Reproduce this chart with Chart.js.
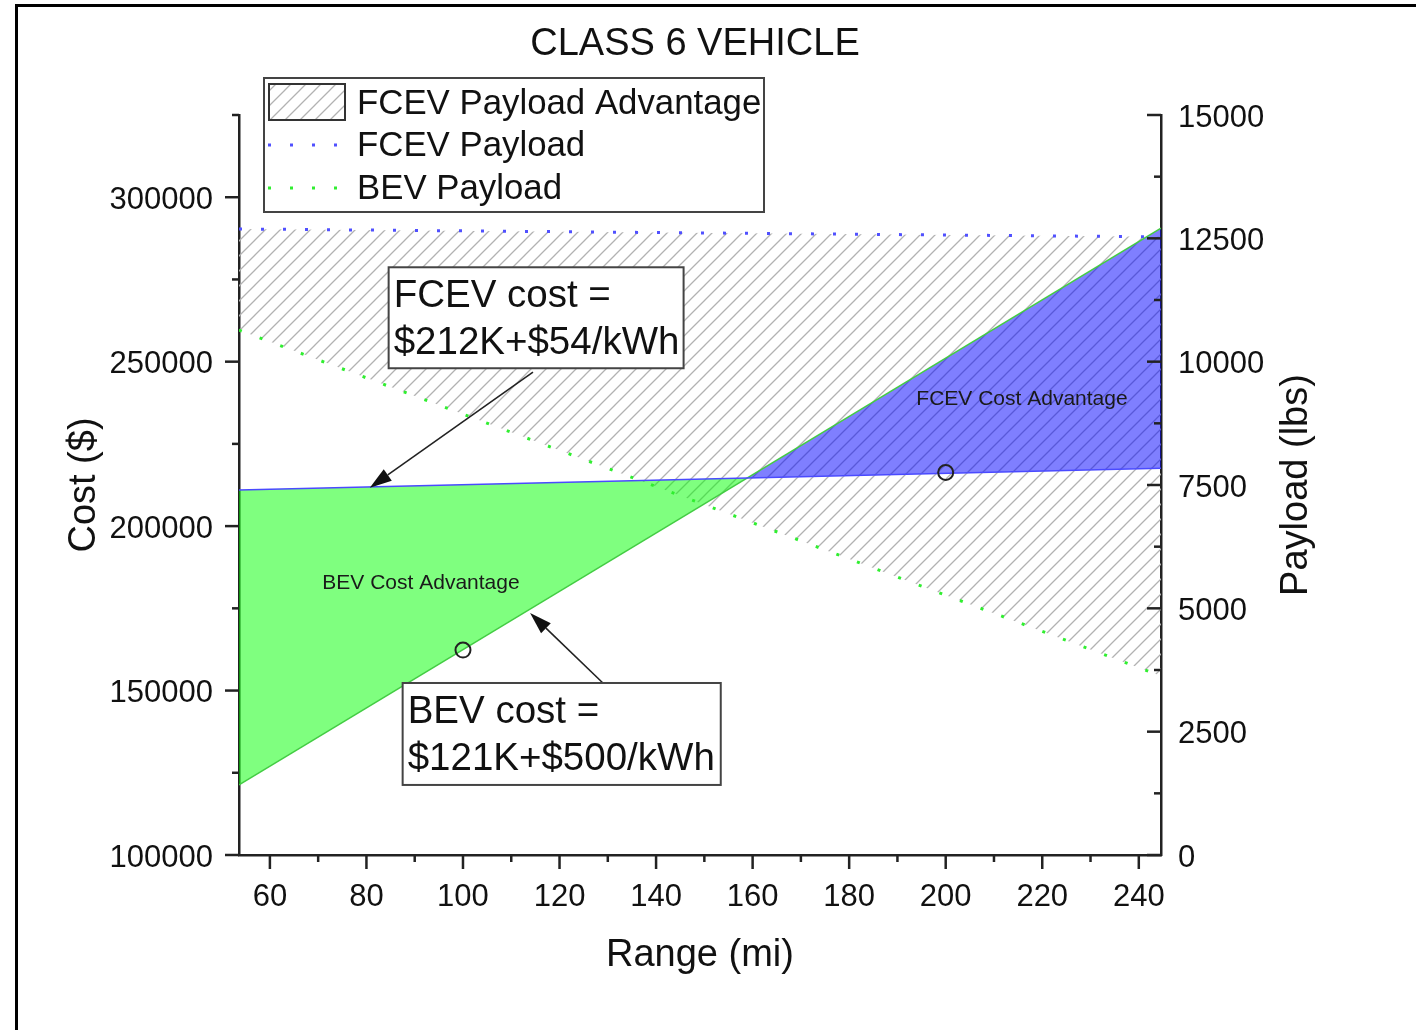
<!DOCTYPE html>
<html>
<head>
<meta charset="utf-8">
<script src="https://cdn.jsdelivr.net/npm/chart.js@4.4.1/dist/chart.umd.min.js"></script>
<style>
  html, body { margin: 0; padding: 0; background: #fff; }
  #wrap { position: relative; width: 1416px; height: 1030px; overflow: hidden; }
  #frame { position: absolute; left: 15px; top: 4px; right: -10px; bottom: -10px;
           border-top: 3px solid #000; border-left: 3px solid #000; }
  canvas { position: absolute; left: 0; top: 0; }
</style>
</head>
<body>
<div id="wrap"><div id="frame"></div><canvas id="chart" width="1416" height="1030"></canvas></div>
<script>
// values
const rangeEnds = [53.6, 244.6];
const fcevCost = [211000, 217600];
const bevCost = [121300, 290600];
const fcevPayload = [12690, 12530];
const bevPayload = [10640, 3630];
const markRange = [100, 200];
const markCost = [162300, 216300];

const rangeTicks = [60, 80, 100, 120, 140, 160, 180, 200, 220, 240];
const rangeMinor = [70, 90, 110, 130, 150, 170, 190, 210, 230];
const costTicks = [100000, 150000, 200000, 250000, 300000];
const costMinor = [125000, 175000, 225000, 275000, 325000];
const payloadTicks = [0, 2500, 5000, 7500, 10000, 12500, 15000];
const payloadMinor = [1250, 3750, 6250, 8750, 11250, 13750];

// text boxes, placed in data units
const notes = [
  { lines: ['FCEV cost =', '$212K+$54/kWh'], box: [84.6, 278700, 145.7, 248000],
    from: [114.5, 246800], to: [80.7, 211700] },
  { lines: ['BEV cost =', '$121K+$500/kWh'], box: [87.5, 152300, 153.4, 121300],
    from: [129.2, 152000], to: [113.9, 173600] }
];
const areaLabels = [
  { text: 'BEV Cost Advantage', at: [91.3, 182700] },
  { text: 'FCEV Cost Advantage', at: [215.8, 238600] }
];

const FONT = "'Liberation Sans', Arial, sans-serif";
Chart.defaults.font.family = FONT;
Chart.defaults.color = '#111';

function pts(xs, ys) {
  return xs.map((v, i) => ({ x: v, y: ys[i] }));
}

function makeHatch() {
  const s = 15;
  const c = document.createElement('canvas');
  c.width = s; c.height = s;
  const g = c.getContext('2d');
  g.strokeStyle = '#b2b2b2';
  g.lineWidth = 1.3;
  g.beginPath();
  g.moveTo(0, s); g.lineTo(s, 0);
  g.moveTo(-s / 2, s / 2); g.lineTo(s / 2, -s / 2);
  g.moveTo(s / 2, s * 1.5); g.lineTo(s * 1.5, s / 2);
  g.stroke();
  return g.createPattern(c, 'repeat');
}
const hatch = makeHatch();

function seg(ctx, x0, y0, x1, y1) {
  ctx.beginPath(); ctx.moveTo(x0, y0); ctx.lineTo(x1, y1); ctx.stroke();
}

function arrow(ctx, fx, fy, tx, ty) {
  const ang = Math.atan2(ty - fy, tx - fx);
  const len = 22, hw = 7;
  const bx = tx - len * Math.cos(ang), by = ty - len * Math.sin(ang);
  ctx.strokeStyle = '#222'; ctx.lineWidth = 1.6;
  seg(ctx, fx, fy, bx, by);
  ctx.fillStyle = '#111';
  ctx.beginPath();
  ctx.moveTo(tx, ty);
  ctx.lineTo(bx + hw * Math.sin(ang), by - hw * Math.cos(ang));
  ctx.lineTo(bx - hw * Math.sin(ang), by + hw * Math.cos(ang));
  ctx.closePath();
  ctx.fill();
}

const extras = {
  id: 'extras',
  afterDraw(chart) {
    const { ctx, chartArea: a, scales: { x, y, y1 } } = chart;
    ctx.save();

    // title
    ctx.font = '38px ' + FONT;
    ctx.fillStyle = '#111';
    ctx.textAlign = 'center'; ctx.textBaseline = 'middle';
    ctx.fillText('CLASS 6 VEHICLE', (a.left + a.right) / 2 - 5, 45);

    // ticks: left and bottom outward, right inward
    ctx.strokeStyle = '#222'; ctx.lineWidth = 2.5;
    costTicks.forEach(v => { const p = y.getPixelForValue(v); seg(ctx, a.left, p, a.left - 14, p); });
    costMinor.forEach(v => { const p = y.getPixelForValue(v); seg(ctx, a.left, p, a.left - 7, p); });
    payloadTicks.forEach(v => { const p = y1.getPixelForValue(v); seg(ctx, a.right, p, a.right - 14, p); });
    payloadMinor.forEach(v => { const p = y1.getPixelForValue(v); seg(ctx, a.right, p, a.right - 7, p); });
    rangeTicks.forEach(v => { const p = x.getPixelForValue(v); seg(ctx, p, a.bottom, p, a.bottom + 14); });
    rangeMinor.forEach(v => { const p = x.getPixelForValue(v); seg(ctx, p, a.bottom, p, a.bottom + 7); });

    // right axis title, reads bottom to top
    ctx.save();
    ctx.translate(a.right + 136, (a.top + a.bottom) / 2);
    ctx.rotate(-Math.PI / 2);
    ctx.font = '38px ' + FONT;
    ctx.fillStyle = '#111';
    ctx.textAlign = 'center'; ctx.textBaseline = 'middle';
    ctx.fillText('Payload (lbs)', 0, 0);
    ctx.restore();

    // area labels
    ctx.font = '21px ' + FONT;
    ctx.fillStyle = '#1a1a1a';
    ctx.textAlign = 'center'; ctx.textBaseline = 'middle';
    areaLabels.forEach(l => ctx.fillText(l.text, x.getPixelForValue(l.at[0]), y.getPixelForValue(l.at[1])));

    // note boxes with arrows
    notes.forEach(n => {
      const l = x.getPixelForValue(n.box[0]), t = y.getPixelForValue(n.box[1]);
      const r = x.getPixelForValue(n.box[2]), b = y.getPixelForValue(n.box[3]);
      arrow(ctx, x.getPixelForValue(n.from[0]), y.getPixelForValue(n.from[1]),
            x.getPixelForValue(n.to[0]), y.getPixelForValue(n.to[1]));
      ctx.fillStyle = '#fff';
      ctx.fillRect(l, t, r - l, b - t);
      ctx.strokeStyle = '#444'; ctx.lineWidth = 2;
      ctx.strokeRect(l, t, r - l, b - t);
      ctx.font = '38.5px ' + FONT;
      ctx.fillStyle = '#111';
      ctx.textAlign = 'left'; ctx.textBaseline = 'alphabetic';
      ctx.fillText(n.lines[0], l + 5, t + 40);
      ctx.fillText(n.lines[1], l + 5, t + 87);
    });

    // legend
    const lx = a.left + 25, ly = a.top - 37, lw = 500, lh = 134;
    ctx.fillStyle = '#fff';
    ctx.fillRect(lx, ly, lw, lh);
    ctx.strokeStyle = '#444'; ctx.lineWidth = 2;
    ctx.strokeRect(lx, ly, lw, lh);
    ctx.fillStyle = hatch;
    ctx.fillRect(lx + 5, ly + 6, 76, 36);
    ctx.strokeStyle = '#333';
    ctx.strokeRect(lx + 5, ly + 6, 76, 36);
    ctx.lineWidth = 3;
    ctx.setLineDash([3, 19]);
    ctx.strokeStyle = '#5050ff';
    seg(ctx, lx + 4, ly + 67, lx + 80, ly + 67);
    ctx.strokeStyle = '#30ee30';
    seg(ctx, lx + 4, ly + 110, lx + 80, ly + 110);
    ctx.setLineDash([]);
    ctx.font = '34.8px ' + FONT;
    ctx.fillStyle = '#111';
    ctx.textAlign = 'left'; ctx.textBaseline = 'middle';
    ctx.fillText('FCEV Payload Advantage', lx + 93, ly + 26);
    ctx.fillText('FCEV Payload', lx + 93, ly + 68);
    ctx.fillText('BEV Payload', lx + 93, ly + 111);

    ctx.restore();
  }
};

new Chart(document.getElementById('chart'), {
  type: 'line',
  data: {
    datasets: [
      {
        data: pts(markRange, markCost), yAxisID: 'y', showLine: false,
        pointRadius: 7.5, pointBorderWidth: 2, pointBorderColor: '#222',
        pointBackgroundColor: 'rgba(0,0,0,0)'
      },
      {
        data: pts(rangeEnds, fcevCost), yAxisID: 'y',
        borderColor: '#4a4aff', borderWidth: 1.5, pointRadius: 0, fill: false
      },
      {
        data: pts(rangeEnds, bevCost), yAxisID: 'y',
        borderColor: '#44cc44', borderWidth: 1.5, pointRadius: 0,
        fill: { target: 1, above: 'rgba(0,0,255,0.5)', below: 'rgba(0,255,0,0.5)' }
      },
      {
        data: pts(rangeEnds, fcevPayload), yAxisID: 'y1',
        borderColor: '#5050ff', borderWidth: 3, borderDash: [3, 19], pointRadius: 0, fill: false
      },
      {
        data: pts(rangeEnds, bevPayload), yAxisID: 'y1',
        borderColor: '#30ee30', borderWidth: 3, borderDash: [3, 19], pointRadius: 0,
        fill: { target: 3 }, backgroundColor: hatch
      }
    ]
  },
  options: {
    responsive: false,
    animation: false,
    devicePixelRatio: 1,
    layout: { padding: { top: 115, left: 0, right: 0, bottom: 0 } },
    plugins: {
      legend: { display: false },
      tooltip: { enabled: false },
      filler: { drawTime: 'beforeDatasetsDraw' }
    },
    scales: {
      x: {
        type: 'linear', min: rangeEnds[0], max: rangeEnds[1], z: 1,
        afterBuildTicks: s => { s.ticks = rangeTicks.map(v => ({ value: v })); },
        afterFit: s => { s.height = 175; },
        grid: { display: false, drawTicks: false },
        border: { color: '#222', width: 2.5 },
        ticks: { padding: 24, font: { size: 31 }, color: '#111', maxRotation: 0 },
        title: { display: true, text: 'Range (mi)', font: { size: 38 }, color: '#111',
                 padding: { top: 0, bottom: 52 } }
      },
      y: {
        type: 'linear', position: 'left', min: 100000, max: 325000, z: 1,
        afterBuildTicks: s => { s.ticks = costTicks.map(v => ({ value: v })); },
        afterFit: s => { s.width = 239; },
        grid: { display: false, drawTicks: false },
        border: { color: '#222', width: 2.5 },
        ticks: { padding: 26, labelOffset: 3, font: { size: 31 }, color: '#111', callback: v => String(v) },
        title: { display: true, text: 'Cost ($)', font: { size: 38 }, color: '#111',
                 padding: { top: 62, bottom: 0 } }
      },
      y1: {
        type: 'linear', position: 'right', min: 0, max: 15000, z: 1,
        afterBuildTicks: s => { s.ticks = payloadTicks.map(v => ({ value: v })); },
        afterFit: s => { s.width = 255; },
        grid: { display: false, drawTicks: false },
        border: { color: '#222', width: 2.5 },
        ticks: { padding: 17, labelOffset: 3, font: { size: 31 }, color: '#111', callback: v => String(v) }
      }
    }
  },
  plugins: [extras]
});
</script>
</body>
</html>
